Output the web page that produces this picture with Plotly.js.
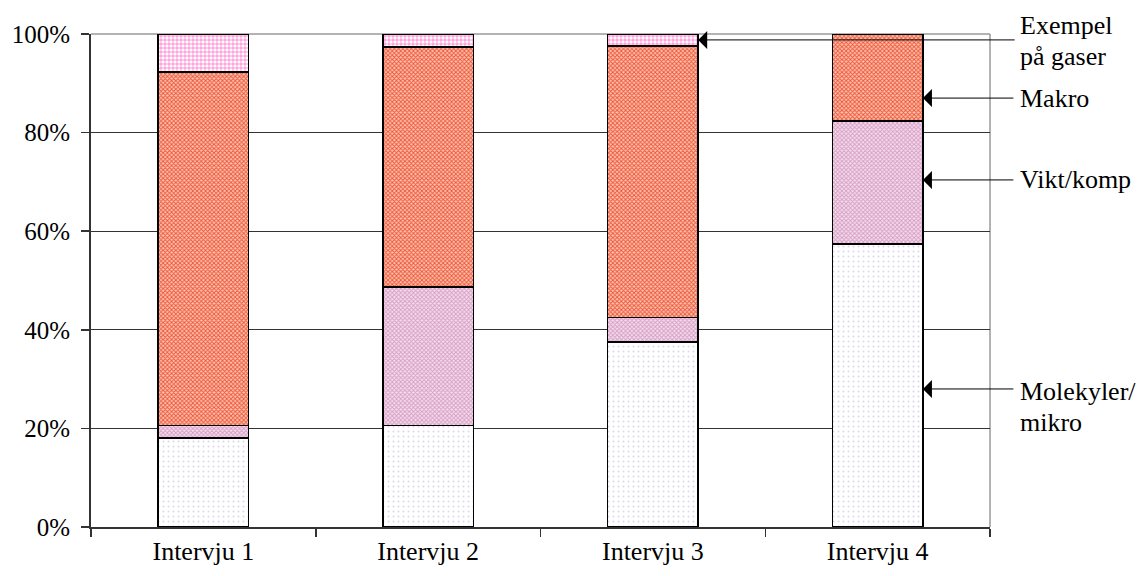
<!DOCTYPE html>
<html>
<head>
<meta charset="utf-8">
<script src="https://cdn.plot.ly/plotly-3.0.1.min.js"></script>
<style>
  html, body { margin: 0; padding: 0; background: #fff; }
  #chart { width: 1140px; height: 576px; }
</style>
</head>
<body>
<div id="chart"></div>
<script>
// Share of answers per category in each interview (percent, stacked to 100)
const categories = ['Intervju 1', 'Intervju 2', 'Intervju 3', 'Intervju 4'];
const molekyler = [18.0, 20.6, 37.5, 57.4];
const viktKomp  = [2.6, 28.1, 5.0, 25.0];
const makro     = [71.7, 48.7, 55.1, 17.6];
const gaser     = [7.7, 2.6, 2.4, 0];

const seriesNames = ['Molekyler/mikro', 'Vikt/komp', 'Makro', 'Exempel på gaser'];
const tickVals = [0, 20, 40, 60, 80, 100];
const tickText = ['0%', '20%', '40%', '60%', '80%', '100%'];

const FONT = '"Liberation Serif", "Times New Roman", Times, serif';
const BARGAP = 0.597;

function barTrace(name, values, pattern) {
  return {
    type: 'bar',
    name: name,
    x: categories,
    y: values,
    marker: {
      color: pattern.bgcolor,
      line: { color: '#000', width: 1.6 },
      pattern: pattern
    },
    hoverinfo: 'x+y+name'
  };
}

const traces = [
  barTrace(seriesNames[0], molekyler, { shape: '.', size: 5, solidity: 0.12, fgcolor: '#ddd6ee', bgcolor: '#ffffff', fillmode: 'replace' }),
  barTrace(seriesNames[1], viktKomp,  { shape: 'x', size: 3, solidity: 0.5, fgcolor: '#d69cc5', bgcolor: '#f4deec', fillmode: 'replace' }),
  barTrace(seriesNames[2], makro,     { shape: 'x', size: 3, solidity: 0.5, fgcolor: '#ea5536', bgcolor: '#ffc2b0', fillmode: 'replace' }),
  barTrace(seriesNames[3], gaser,     { shape: '+', size: 4, solidity: 0.3, fgcolor: '#ff5cc4', bgcolor: '#ffffff', fillmode: 'replace' })
];

// Middle of one stacked segment, used for pointing an arrow at it
function segmentMid(idx, seriesIdx) {
  const stack = [molekyler, viktKomp, makro, gaser];
  let base = 0;
  for (let s = 0; s < seriesIdx; s++) base += stack[s][idx];
  return base + stack[seriesIdx][idx] / 2;
}

const halfBar = (1 - BARGAP) / 2;
const labelFont = { family: FONT, size: 26, color: '#000' };

// Arrow: from the series label at the right, to the right edge of a bar
function arrow(catIdx, yVal, tailPx) {
  return {
    xref: 'x', yref: 'y',
    x: catIdx + halfBar, y: yVal,
    axref: 'pixel', ayref: 'pixel',
    ax: tailPx, ay: 0,
    text: '', showarrow: true,
    arrowhead: 1, arrowsize: 3, arrowwidth: 1, arrowcolor: '#000',
    standoff: 0, startstandoff: 0
  };
}

// Series name to the right of the plot; yPct is in percent of the plot height
function label(text, yPct) {
  return {
    xref: 'paper', yref: 'paper',
    x: 1, y: yPct / 100, xanchor: 'left', yanchor: 'middle',
    xshift: 28,
    text: text, showarrow: false, font: labelFont
  };
}

const annotations = [
  arrow(2, segmentMid(2, 3), 318),
  arrow(3, 87.0, 92),
  arrow(3, 70.4, 92),
  arrow(3, 28.0, 92),
  label('Exempel', 101.8),
  label('på gaser', 95.4),
  label('Makro', 87.0),
  label('Vikt/komp', 70.4),
  label('Molekyler/', 27.4),
  label('mikro', 21.1)
];

const layout = {
  width: 1140,
  height: 576,
  margin: { l: 91, r: 150, t: 34, b: 49, pad: 0 },
  paper_bgcolor: '#fff',
  plot_bgcolor: '#fff',
  barmode: 'stack',
  bargap: BARGAP,
  showlegend: false,
  font: { family: FONT, size: 26, color: '#000' },
  xaxis: {
    type: 'category',
    range: [-0.5, 3.5],
    showgrid: false,
    showline: true, linecolor: '#333', linewidth: 2,
    ticks: 'outside', tickson: 'boundaries', ticklen: 8, tickcolor: '#333', tickwidth: 1.5,
    tickfont: { family: FONT, size: 26, color: '#000' },
    fixedrange: true
  },
  yaxis: {
    range: [0, 100],
    tickmode: 'array',
    tickvals: tickVals,
    ticktext: tickText,
    showgrid: true, gridcolor: '#333', gridwidth: 1,
    zeroline: false,
    showline: true, linecolor: '#333', linewidth: 2,
    ticks: 'outside', ticklen: 8, tickcolor: '#333', tickwidth: 1.5,
    ticklabelstandoff: 6,
    tickfont: { family: FONT, size: 25, color: '#000' },
    fixedrange: true
  },
  shapes: [
    { type: 'line', xref: 'paper', yref: 'paper', x0: 0, x1: 1, y0: 1, y1: 1,
      line: { color: '#9a9a9a', width: 1.5 }, layer: 'between' },
    { type: 'line', xref: 'paper', yref: 'paper', x0: 1, x1: 1, y0: 0, y1: 1,
      line: { color: '#9a9a9a', width: 1.5 }, layer: 'between' }
  ],
  annotations: annotations
};

Plotly.newPlot('chart', traces, layout, { displayModeBar: false, staticPlot: true });
</script>
</body>
</html>
